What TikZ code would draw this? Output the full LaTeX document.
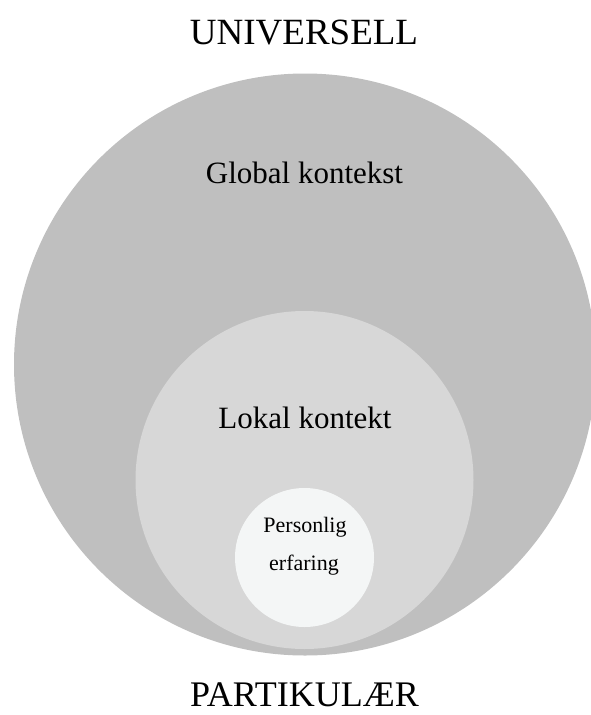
\documentclass[tikz,border=0pt]{standalone}
\usepackage{fontspec}
\setmainfont{Liberation Serif}
\definecolor{outerg}{HTML}{BFBFBF}
\definecolor{midg}{HTML}{D7D7D7}
\definecolor{innerg}{HTML}{F4F6F6}
\begin{document}
\begin{tikzpicture}[x=1pt,y=-1pt,
  disc/.style={circle, inner sep=0pt, draw=none},
  lbl/.style={anchor=base, inner sep=0pt, text=black}]
\useasboundingbox (0,0) rectangle (591,715);
\node[disc, fill=outerg, minimum size=582pt] (global) at (305,364.5) {};
\node[disc, fill=midg, minimum size=338pt] (lokal) at (304.5,480) {};
\node[disc, fill=innerg, minimum size=139pt] (pers) at (304.5,557.5) {};
\node[lbl, font=\fontsize{37}{44}\selectfont] (univ) at (304,44) {UNIVERSELL};
\node[lbl, font=\fontsize{36}{43}\selectfont] (part) at (304.5,706) {PARTIKULÆR};
\node[lbl, font=\fontsize{31}{37}\selectfont] (glab) at (304.5,183) {Global kontekst};
\node[lbl, font=\fontsize{31}{37}\selectfont] (llab) at (305,428) {Lokal kontekt};
\node[lbl, font=\fontsize{22}{26}\selectfont] (plab1) at (305,532) {Personlig};
\node[lbl, font=\fontsize{22}{26}\selectfont] (plab2) at (304,570) {erfaring};
\end{tikzpicture}
\end{document}
